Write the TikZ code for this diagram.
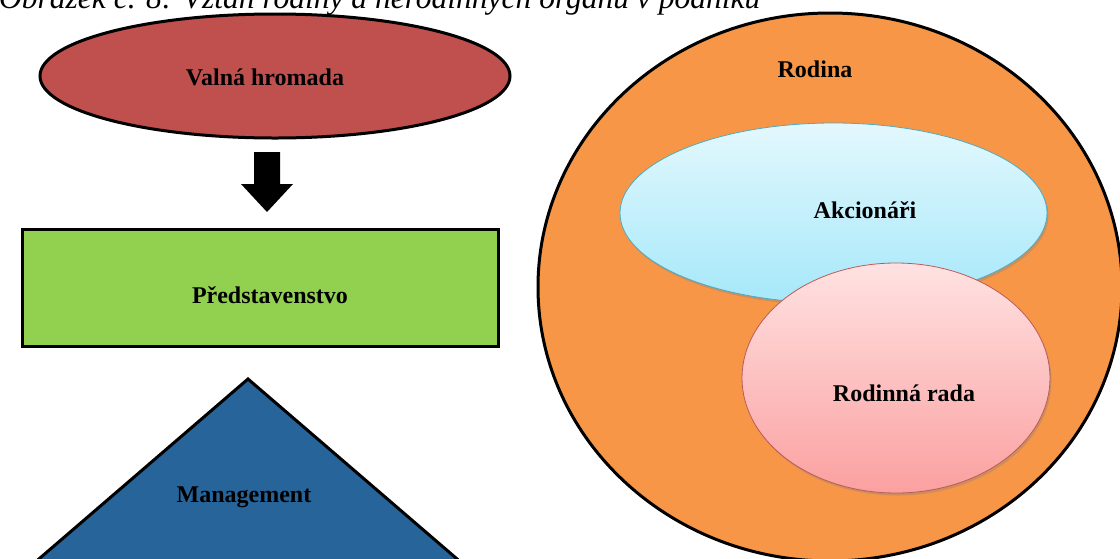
\documentclass[tikz,border=0pt]{standalone}
\usepackage{fontspec}
\setmainfont{Liberation Serif}
\usepackage{tikz}
\usetikzlibrary{shapes.geometric,shadows}

\definecolor{cervena}{HTML}{C0504D}
\definecolor{zelena}{HTML}{92D050}
\definecolor{modra}{HTML}{26649A}
\definecolor{oranzova}{HTML}{F79646}
\definecolor{akcTop}{HTML}{E3F8FD}
\definecolor{akcBot}{HTML}{A6E8FA}
\definecolor{akcLine}{HTML}{4BACC6}
\definecolor{radaTop}{HTML}{FFE2E2}
\definecolor{radaBot}{HTML}{FBA0A0}
\definecolor{radaLine}{HTML}{BE5A57}

\begin{document}
\begin{tikzpicture}[x=1pt,y=-1pt,
  nadpis/.style={font=\fontsize{24}{28}\selectfont\bfseries,inner sep=0pt},
  obrys/.style={draw=black,line width=3pt},
  bublina/.style={ellipse,inner sep=0pt,line width=0.8pt,
    drop shadow={opacity=0.35,shadow xshift=1.5pt,shadow yshift=-2.5pt}}]
  \clip (0,0) rectangle (1120,558);
  \useasboundingbox (0,0) rectangle (1120,558);

  \node[anchor=base west,inner sep=0pt,font=\fontsize{31.5}{36}\selectfont\itshape] (popis) at (-1,8)
    {Obrázek č. 8: Vztah rodiny a nerodinných orgánů v podniku};

  % levá strana
  \node[obrys,ellipse,fill=cervena,minimum width=470,minimum height=124,inner sep=0pt] (valna) at (275,76) {};
  \node[nadpis] (valnaText) at (265,77) {Valná hromada};

  \fill (254,152) -- (280,152) -- (280,184) -- (293,184) -- (267,212) -- (241,184) -- (254,184) -- cycle;

  \node[obrys,fill=zelena,minimum width=476,minimum height=117,inner sep=0pt] (predst) at (260,287.5) {};
  \node[nadpis] (predstText) at (270,295) {Představenstvo};

  \draw[obrys,fill=modra,line join=miter] (248,379) -- (528,620) -- (-32,620) -- cycle;
  \node[nadpis] (mgmt) at (244,497) {Management};

  % pravá strana
  \node[obrys,ellipse,fill=oranzova,minimum width=584,minimum height=548,inner sep=0pt] (rodina) at (830,287) {};
  \node[nadpis] (rodinaText) at (815,69) {Rodina};

  \node[bublina,draw=akcLine,top color=akcTop,bottom color=akcBot,minimum width=427,minimum height=180] (akc) at (833.5,213) {};
  \node[nadpis] (akcText) at (865,210) {Akcionáři};

  \node[bublina,draw=radaLine,top color=radaTop,bottom color=radaBot,minimum width=308,minimum height=230] (rada) at (896,378) {};
  \node[nadpis] (radaText) at (904,393) {Rodinná rada};
\end{tikzpicture}
\end{document}
